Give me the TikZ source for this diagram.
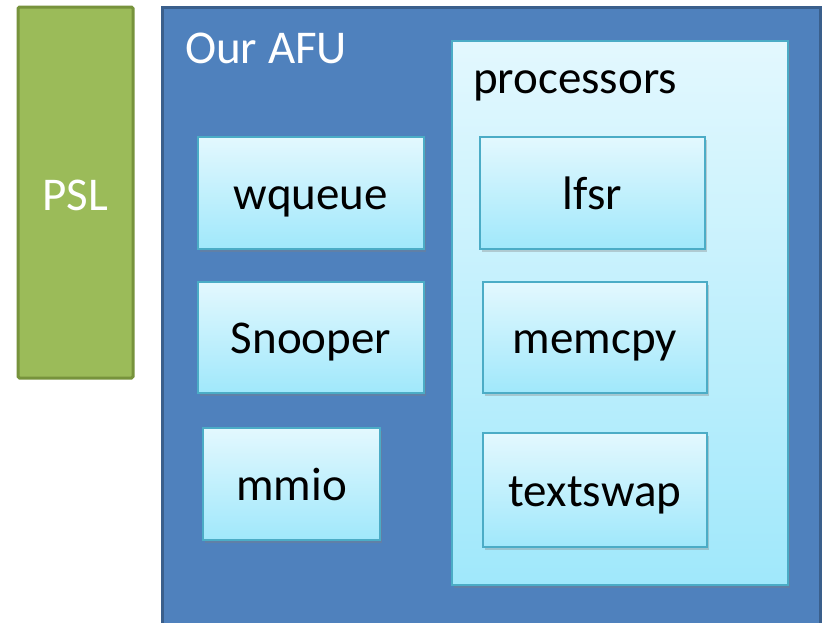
\documentclass[tikz,border=0pt]{standalone}
\usepackage{fontspec}
\setmainfont{Carlito}
\usetikzlibrary{shadows}
\definecolor{pslfill}{HTML}{9BBB59}
\definecolor{pslline}{HTML}{77933C}
\definecolor{afufill}{HTML}{4F81BD}
\definecolor{afuline}{HTML}{3A5F8C}
\definecolor{boxline}{HTML}{4BACC6}
\definecolor{boxtop}{HTML}{E3F8FE}
\definecolor{boxbot}{HTML}{A0E8FB}
\tikzset{
  bigtxt/.style={font=\fontsize{47}{56}\selectfont},
  pslbox/.style={draw=pslline, fill=pslfill, line width=3pt, rounded corners=1.5pt, bigtxt, text=white, text height=36pt, text depth=0pt, inner sep=0pt},
  afubox/.style={draw=afuline, fill=afufill, line width=3pt, inner sep=0pt},
  procbox/.style={draw=boxline, line width=2pt, top color=boxtop, bottom color=boxbot, inner sep=0pt,
     drop shadow={shadow xshift=2pt, shadow yshift=-3pt, opacity=0.35}},
  unitbox/.style={draw=boxline, line width=2pt, top color=boxtop, bottom color=boxbot, bigtxt, text=black,
     text height=32pt, text depth=0pt, inner sep=0pt,
     drop shadow={shadow xshift=2pt, shadow yshift=-3pt, opacity=0.35}},
  title/.style={bigtxt, anchor=base west, inner sep=0pt}
}
\begin{document}
\begin{tikzpicture}[x=1pt,y=-1pt]
\useasboundingbox[fill=white] (0,0) rectangle (823,622);
\node[pslbox, minimum width=115pt, minimum height=371pt] (psl) at (75.5,192.5) {PSL};
\node[afubox, minimum width=658pt, minimum height=640pt] (afu) at (491,327) {};
\node[title, text=white] (afutitle) at (185,63) {Our AFU};
\node[procbox, minimum width=336pt, minimum height=544pt] (proc) at (620,313) {};
\node[title, text=black] (proctitle) at (473,93) {processors};
\node[unitbox, minimum width=226pt, minimum height=112pt] (wqueue) at (311,193) {wqueue};
\node[unitbox, minimum width=226pt, minimum height=111pt] (snooper) at (311,337.5) {Snooper};
\node[unitbox, minimum width=177pt, minimum height=112pt] (mmio) at (291.5,484) {mmio};
\node[unitbox, minimum width=225pt, minimum height=112pt] (lfsr) at (592.5,193) {lfsr};
\node[unitbox, minimum width=224pt, minimum height=111pt] (memcpy) at (595,337.5) {memcpy};
\node[unitbox, minimum width=224pt, minimum height=114pt] (textswap) at (595,490) {textswap};
\end{tikzpicture}
\end{document}
